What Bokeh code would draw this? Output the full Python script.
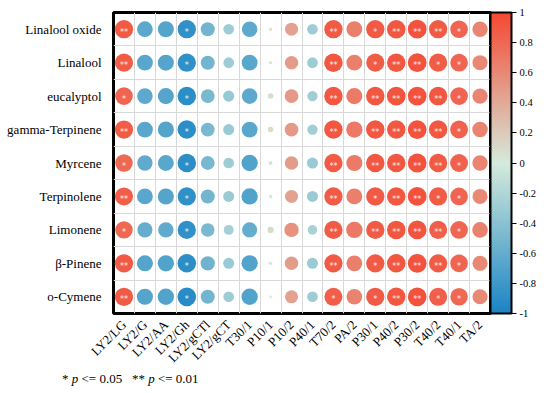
import numpy as np
from bokeh.plotting import figure
from bokeh.layouts import column
from bokeh.models import ColumnDataSource, LinearColorMapper, ColorBar, FixedTicker, Div
from bokeh.core.properties import value
from bokeh.embed import file_html
from bokeh.resources import INLINE

samples = ["LY2/LG", "LY2/G", "LY2/AA", "LY2/Gh", "LY2/gCTl", "LY2/gCT", "T30/1", "P10/1", "P10/2",
           "P40/1", "T70/2", "PA/2", "P30/1", "P40/2", "P30/2", "T40/2", "T40/1", "TA/2"]
compounds = ["Linalool oxide", "Linalool", "eucalyptol", "gamma-Terpinene", "Myrcene",
             "Terpinolene", "Limonene", "β-Pinene", "o-Cymene"]

corr_linalool_oxide = [0.88, -0.65, -0.68, -0.88, -0.52, -0.30, -0.64, 0.03, 0.45, -0.30, 0.88, 0.66, 0.88, 0.90, 0.93, 0.88, 0.82, 0.62]
corr_linalool = [0.87, -0.66, -0.68, -0.88, -0.52, -0.30, -0.66, 0.03, 0.48, -0.30, 0.90, 0.66, 0.87, 0.90, 0.93, 0.87, 0.82, 0.60]
corr_eucalyptol = [0.82, -0.64, -0.68, -0.90, -0.50, -0.33, -0.64, 0.08, 0.50, -0.28, 0.90, 0.68, 0.90, 0.92, 0.93, 0.90, 0.82, 0.62]
corr_gamma_terpinene = [0.87, -0.66, -0.68, -0.90, -0.50, -0.32, -0.66, 0.08, 0.50, -0.28, 0.90, 0.70, 0.90, 0.90, 0.93, 0.90, 0.84, 0.63]
corr_myrcene = [0.80, -0.62, -0.66, -0.90, -0.50, -0.30, -0.70, 0.04, 0.48, -0.32, 0.88, 0.68, 0.90, 0.90, 0.93, 0.88, 0.84, 0.62]
corr_terpinolene = [0.86, -0.66, -0.68, -0.88, -0.52, -0.32, -0.70, 0.03, 0.45, -0.32, 0.88, 0.66, 0.88, 0.90, 0.93, 0.87, 0.82, 0.60]
corr_limonene = [0.80, -0.60, -0.62, -0.88, -0.48, -0.26, -0.60, 0.10, 0.55, -0.24, 0.88, 0.70, 0.88, 0.90, 0.92, 0.86, 0.82, 0.64]
corr_beta_pinene = [0.88, -0.68, -0.70, -0.90, -0.54, -0.32, -0.70, 0.03, 0.48, -0.32, 0.88, 0.66, 0.88, 0.90, 0.93, 0.88, 0.82, 0.60]
corr_o_cymene = [0.88, -0.68, -0.70, -0.92, -0.52, -0.30, -0.70, 0.02, 0.45, -0.30, 0.86, 0.64, 0.88, 0.90, 0.93, 0.86, 0.80, 0.60]

stars_linalool_oxide = ["**", "", "", "*", "", "", "", "", "", "", "**", "", "*", "**", "**", "**", "*", ""]
stars_linalool = ["**", "", "", "*", "", "", "", "", "", "", "**", "", "*", "**", "**", "*", "*", ""]
stars_eucalyptol = ["*", "", "", "*", "", "", "", "", "", "", "**", "", "**", "**", "**", "**", "*", ""]
stars_gamma_terpinene = ["**", "", "", "*", "", "", "", "", "", "", "**", "", "**", "**", "**", "**", "*", ""]
stars_myrcene = ["*", "", "", "*", "", "", "", "", "", "", "**", "", "**", "**", "**", "**", "*", ""]
stars_terpinolene = ["**", "", "", "*", "", "", "", "", "", "", "**", "", "*", "**", "**", "*", "*", ""]
stars_limonene = ["*", "", "", "*", "", "", "", "", "", "", "**", "", "**", "**", "**", "**", "*", ""]
stars_beta_pinene = ["**", "", "", "*", "", "", "", "", "", "", "**", "", "*", "**", "**", "**", "*", ""]
stars_o_cymene = ["**", "", "", "*", "", "", "", "", "", "", "*", "", "*", "**", "**", "*", "*", ""]

colorbar_ticks = [-1, -0.8, -0.6, -0.4, -0.2, 0, 0.2, 0.4, 0.6, 0.8, 1]
colorbar_labels = ["-1", "-0.8", "-0.6", "-0.4", "-0.2", "0", "0.2", "0.4", "0.6", "0.8", "1"]

corr_rows = [corr_linalool_oxide, corr_linalool, corr_eucalyptol, corr_gamma_terpinene, corr_myrcene,
             corr_terpinolene, corr_limonene, corr_beta_pinene, corr_o_cymene]
star_rows = [stars_linalool_oxide, stars_linalool, stars_eucalyptol, stars_gamma_terpinene, stars_myrcene,
             stars_terpinolene, stars_limonene, stars_beta_pinene, stars_o_cymene]

# palette: blue -> pale green -> red
anchors = [(-1.0, (26, 132, 196)), (0.0, (213, 235, 220)), (1.0, (245, 72, 50))]
palette = []
for t in np.linspace(-1, 1, 256):
    if t <= 0:
        a, b, f = anchors[0][1], anchors[1][1], t + 1
    else:
        a, b, f = anchors[1][1], anchors[2][1], t
    c = [int(round(a[k] + (b[k] - a[k]) * f)) for k in range(3)]
    palette.append("#%02x%02x%02x" % tuple(c))
mapper = LinearColorMapper(palette=palette, low=-1, high=1)

nrow, ncol = len(compounds), len(samples)
xs, ys, rs, sz, st = [], [], [], [], []
for i in range(nrow):
    for j in range(ncol):
        r = corr_rows[i][j]
        xs.append(j + 0.5)
        ys.append(nrow - i - 0.5)
        rs.append(r)
        sz.append(19.5 * np.sqrt(abs(r)))
        st.append(star_rows[i][j])
src = ColumnDataSource(dict(x=xs, y=ys, r=rs, size=sz, stars=st))

FONT = "Liberation Serif"

p = figure(frame_width=377, frame_height=301, output_backend="svg", toolbar_location=None,
           x_range=(0, ncol), y_range=(0, nrow),
           min_border_left=113, min_border_top=12, min_border_bottom=45, min_border_right=0)
p.background_fill_color = "white"
p.border_fill_color = "white"
p.outline_line_color = "black"
p.outline_line_width = 3

p.xgrid.ticker = FixedTicker(ticks=list(range(ncol + 1)))
p.ygrid.ticker = FixedTicker(ticks=list(range(nrow + 1)))
p.grid.grid_line_color = "#d8d8d8"
p.grid.grid_line_width = 1

p.scatter("x", "y", size="size", source=src, line_color=None,
          fill_color={"field": "r", "transform": mapper})
p.text("x", "y", text="stars", source=src, text_color="#fff0f0", text_font=value("DejaVu Sans"),
       text_font_size="8px", text_align="center", text_baseline="middle", y_offset=3)

p.xaxis.ticker = FixedTicker(ticks=[j + 0.5 for j in range(ncol)])
p.xaxis.major_label_overrides = {j + 0.5: samples[j] for j in range(ncol)}
p.yaxis.ticker = FixedTicker(ticks=[nrow - i - 0.5 for i in range(nrow)])
p.yaxis.major_label_overrides = {nrow - i - 0.5: compounds[i] for i in range(nrow)}
for ax in (p.xaxis[0], p.yaxis[0]):
    ax.axis_line_color = None
    ax.major_tick_line_color = None
    ax.minor_tick_line_color = None
    ax.major_label_text_font = FONT
    ax.major_label_text_font_size = "13px"
    ax.major_label_text_color = "black"
p.xaxis.major_label_orientation = np.pi / 4
p.xaxis.major_label_standoff = 3
p.yaxis.major_label_standoff = 6

cb = ColorBar(color_mapper=mapper, ticker=FixedTicker(ticks=colorbar_ticks),
              major_label_overrides={t: l for t, l in zip(colorbar_ticks, colorbar_labels)},
              major_label_text_font=FONT, major_label_text_font_size="10.5px",
              major_label_text_color="black",
              width=21, bar_line_color="black", bar_line_width=2,
              major_tick_line_color="black", major_tick_in=0, major_tick_out=5,
              minor_tick_line_color=None, border_line_color=None,
              background_fill_color=None, margin=4, padding=0, label_standoff=3)
p.add_layout(cb, "right")

footnote = Div(text='<div style="position:relative; top:-8px; left:57px; white-space:nowrap;">'
                    '* <i>p</i> &lt;= 0.05&nbsp;&nbsp;&nbsp;** <i>p</i> &lt;= 0.01</div>',
               width=300, height=20,
               styles={"font-family": "Liberation Serif", "font-size": "13px", "color": "black"})

layout = column(p, footnote, spacing=0)
open("out.html", "w").write(file_html(layout, INLINE))
